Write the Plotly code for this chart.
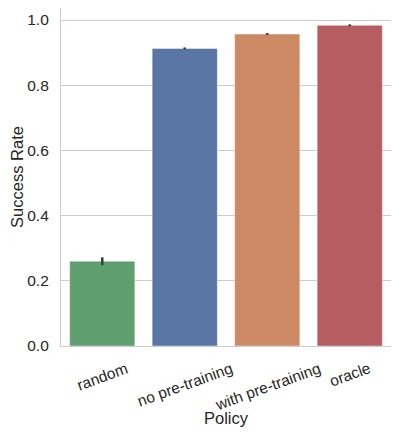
import plotly.graph_objects as go

# policies and their success rates (mean, ci half-width)
policies = ['random', 'no pre-training', 'with pre-training', 'oracle']
success_rate = [0.260, 0.913, 0.957, 0.984]
ci = [0.012, 0.003, 0.003, 0.003]
bar_colors = ['#5f9e6e', '#5875a4', '#cc8963', '#b55d60']

y_ticks = [0.0, 0.2, 0.4, 0.6, 0.8, 1.0]

FONT = 'Liberation Sans, Arial, sans-serif'
TEXT = '#262626'

fig = go.Figure()
fig.add_trace(go.Bar(
    x=list(range(len(policies))),
    y=success_rate,
    width=0.79,
    marker=dict(color=bar_colors, line=dict(color='rgba(255,255,255,0.45)', width=1)),
    error_y=dict(type='data', array=ci, color='#3f3f3f', thickness=2.6, width=0),
    showlegend=False,
))

# category labels, rotated around their centre like matplotlib's ha='center'
for i, name in enumerate(policies):
    fig.add_annotation(
        x=i, y=0, xref='x', yref='paper', yshift=-11,
        text=name, textangle=-20, showarrow=False,
        xanchor='center', yanchor='top',
        font=dict(family=FONT, size=15.5, color=TEXT),
    )

# page body adds an 8px margin, so the figure is 8px smaller each way
fig.update_layout(
    width=391,
    height=429,
    margin=dict(l=53, r=8, t=0, b=91),
    plot_bgcolor='white',
    paper_bgcolor='white',
    font=dict(family=FONT, size=15.5, color=TEXT),
)
fig.update_xaxes(
    range=[-0.5, 3.5],
    showticklabels=False,
    showgrid=False,
    zeroline=False,
    showline=True,
    linecolor='#cccccc',
    linewidth=1.2,
    automargin=False,
    title=dict(text='Policy', font=dict(size=16.5), standoff=66),
)
fig.update_yaxes(
    range=[0, 1.037],
    tickvals=y_ticks,
    ticktext=[f'{v:.1f}' for v in y_ticks],
    showgrid=True,
    gridcolor='#cccccc',
    gridwidth=1,
    zeroline=False,
    showline=True,
    linecolor='#cccccc',
    linewidth=1.2,
    ticklabelstandoff=8,
    automargin=False,
    title=dict(text='Success Rate', font=dict(size=16.5), standoff=12),
)

fig.write_html('out.html')
